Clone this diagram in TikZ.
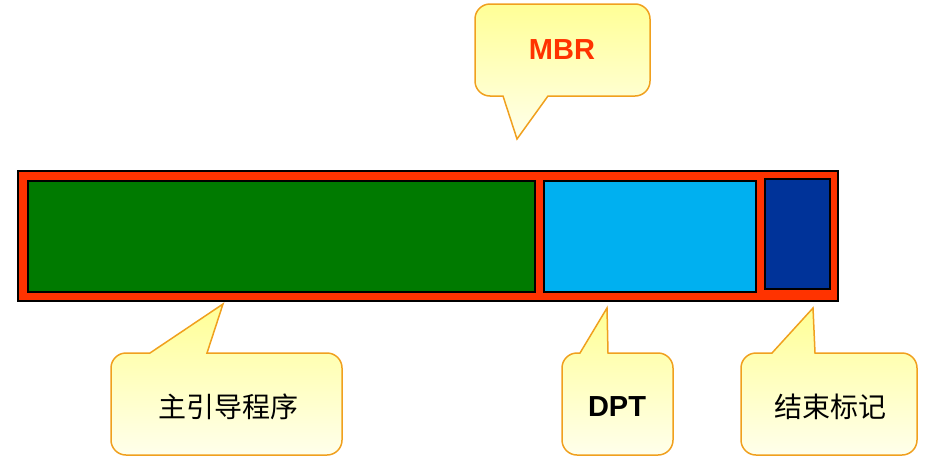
\documentclass[tikz,border=0pt]{standalone}
\usepackage{fontspec}
\setmainfont{Liberation Sans}
\newfontfamily\cjk{Noto Sans CJK SC}
\definecolor{mbrred}{RGB}{255,51,0}
\definecolor{bootgreen}{RGB}{0,122,0}
\definecolor{dptblue}{RGB}{0,176,240}
\definecolor{endblue}{RGB}{0,51,153}
\definecolor{calloutedge}{RGB}{240,160,30}
\definecolor{callouttop}{RGB}{255,255,150}
\definecolor{calloutbot}{RGB}{255,255,235}
\tikzset{
  part/.style={draw=black, line width=2pt},
  callout/.style={draw=calloutedge, line width=1.5pt, top color=callouttop, bottom color=calloutbot},
  boldlabel/.style={font=\fontsize{29}{32}\selectfont\bfseries},
  cjklabel/.style={font=\fontsize{28}{32}\selectfont\cjk},
}
\begin{document}
\begin{tikzpicture}[x=1pt,y=-1pt]
\useasboundingbox (0,0) rectangle (949,469);
% main bar
\draw[part, fill=mbrred] (18,171) rectangle (838,301);
\draw[part, fill=bootgreen] (28,181) rectangle (535,292);
\draw[part, fill=dptblue] (544,181) rectangle (756,292);
\draw[part, fill=endblue] (765,179) rectangle (830,289);
% MBR callout (pointer down)
\shade[callout, rounded corners=15pt] (600,96) -- (650,96) -- (650,4) -- (475,4) -- (475,96) [sharp corners] -- (503,96) -- (517,139) -- (548,96) [rounded corners=15pt] -- cycle;
\node[boldlabel, text=mbrred] (mbr) at (562,50) {MBR};
% boot program callout
\shade[callout, rounded corners=15pt] (260,455) -- (111,455) -- (111,353) [sharp corners] -- (150,353) -- (223,304) -- (207,353) [rounded corners=15pt] -- (342,353) -- (342,455) -- cycle;
\node[cjklabel] (boot) at (228,407) {主引导程序};
% DPT callout
\shade[callout, rounded corners=15pt] (617,455) -- (562,455) -- (562,353) [sharp corners] -- (580,353) -- (607,308) -- (608,353) [rounded corners=15pt] -- (673,353) -- (673,455) -- cycle;
\node[boldlabel] (dpt) at (617,407) {DPT};
% end marker callout
\shade[callout, rounded corners=15pt] (830,455) -- (741,455) -- (741,353) [sharp corners] -- (772,353) -- (813,308) -- (815,353) [rounded corners=15pt] -- (917,353) -- (917,455) -- cycle;
\node[cjklabel] (endmark) at (830,407) {结束标记};
\end{tikzpicture}
\end{document}
